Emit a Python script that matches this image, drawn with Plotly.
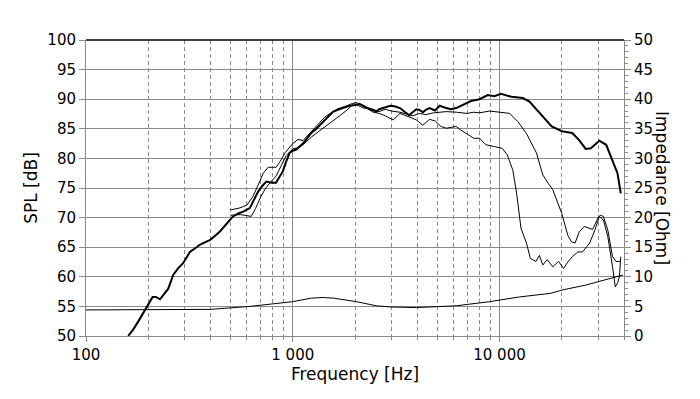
import numpy as np
import plotly.graph_objects as go

# ---- data ----
on_f = [160, 170, 180, 193, 203, 210, 218, 228, 240, 250, 264, 280, 295, 318, 340, 355, 380, 397, 420, 443,
        480, 514, 545, 575, 620, 650, 680, 710, 745, 790, 830, 860, 895, 930, 965, 1000, 1040, 1120, 1230,
        1300, 1400, 1480, 1570, 1650, 1730, 1880, 2000, 2100, 2270, 2400, 2540, 2620, 2800, 2960, 3100,
        3300, 3500, 3660, 3800, 3960, 4100, 4260, 4400, 4590, 4870, 5140, 5530, 5800, 6170, 6640, 7280,
        8000, 8770, 9440, 10170, 11400, 12970, 13960, 15650, 17870, 20030, 22470, 24270, 26100, 27650,
        30400, 32800, 35240, 37200, 38600]
on_db = [50.0, 51.2, 52.6, 54.4, 55.8, 56.6, 56.6, 56.2, 57.2, 58.0, 60.3, 61.5, 62.3, 64.2, 64.9, 65.4, 65.9,
         66.2, 66.9, 67.6, 69.0, 70.2, 70.7, 71.0, 71.6, 73.0, 74.4, 75.3, 76.1, 75.9, 75.9, 76.8, 77.8, 79.5,
         80.9, 81.3, 81.5, 82.5, 84.3, 85.0, 86.2, 87.0, 87.9, 88.2, 88.5, 88.9, 89.0, 89.2, 88.6, 88.2, 87.9,
         88.3, 88.6, 88.9, 88.8, 88.5, 87.8, 87.3, 87.8, 88.3, 88.2, 87.8, 88.2, 88.5, 88.1, 88.9, 88.5, 88.3,
         88.5, 89.0, 89.7, 90.0, 90.7, 90.5, 90.9, 90.4, 90.2, 89.6, 87.6, 85.4, 84.6, 84.3, 83.1, 81.6, 81.7,
         83.0, 82.3, 79.7, 77.5, 74.1]

a_f = [500, 550, 600, 640, 680, 720, 760, 830, 870, 920, 1000, 1060, 1120, 1230, 1330, 1430, 1550, 1650, 1800,
       1950, 2050, 2200, 2400, 2620, 2800, 3000, 3300, 3500, 3810, 4100, 4400, 4800, 5530, 6200, 6960, 7500,
       8000, 8960, 9800, 11200, 12280, 13500, 15100, 16200, 17200, 18100, 20000, 21400, 22300, 23200, 24300,
       25700, 28200, 30000, 30700, 31800, 33400, 35200, 36600, 38600]
a_db = [71.3, 71.6, 72.1, 73.5, 75.5, 77.5, 78.5, 78.5, 79.5, 81.0, 82.5, 83.2, 83.0, 84.5, 85.8, 87.0, 87.8,
        88.4, 88.8, 89.3, 89.0, 88.5, 88.4, 87.9, 88.3, 88.0, 87.8, 87.5, 87.2, 87.6, 87.4, 87.7, 87.9, 87.8,
        87.6, 87.8, 87.7, 88.0, 87.8, 87.6, 86.2, 84.2, 80.9, 77.2, 75.8, 74.7, 70.7, 67.0, 65.9, 65.7, 67.6,
        68.5, 68.0, 70.0, 70.4, 70.2, 67.9, 63.4, 62.6, 62.6]

b_f = [500, 560, 630, 660, 700, 740, 790, 830, 880, 930, 1000, 1060, 1120, 1230, 1330, 1430, 1570, 1700, 1850,
       2000, 2150, 2270, 2450, 2620, 2800, 3060, 3300, 3660, 3960, 4260, 4590, 4900, 5200, 5530, 6170, 6500,
       6960, 7500, 8000, 8600, 9440, 10300, 10900, 11600, 12100, 12700, 13500, 14100, 15000, 15600, 16200,
       17000, 18100, 19300, 20400, 21400, 22500, 23900, 25200, 27300, 29000, 30400, 31800, 33400, 35200,
       36300, 37300, 38000, 38600]
b_db = [70.4, 70.5, 70.2, 71.5, 73.5, 75.0, 76.2, 77.0, 78.8, 80.5, 81.6, 81.8, 82.3, 83.6, 84.5, 85.3, 86.3,
        87.3, 88.3, 89.5, 89.0, 88.5, 87.8, 87.6, 87.2, 86.5, 87.6, 87.0, 86.5, 85.6, 86.6, 86.3, 85.4, 85.1,
        85.4, 84.8, 84.2, 83.4, 83.4, 82.3, 82.0, 81.7, 80.6, 78.0, 74.1, 68.2, 65.7, 63.1, 62.6, 63.6, 62.0,
        62.9, 61.7, 62.6, 61.4, 62.5, 63.4, 64.2, 64.2, 65.7, 68.0, 70.2, 69.6, 66.8, 61.7, 58.3, 59.0, 60.0,
        63.4]

imp_f = [100, 200, 400, 620, 800, 1000, 1230, 1400, 1570, 2030, 2540, 3000, 3960, 5000, 6170, 8960, 12500,
         17600, 20300, 26100, 32800, 39500]
imp_ohm = [4.4, 4.4, 4.5, 5.0, 5.4, 5.8, 6.4, 6.5, 6.4, 5.8, 5.1, 4.9, 4.8, 4.9, 5.1, 5.8, 6.6, 7.2, 7.8, 8.6,
           9.5, 10.3]

x_major = [100, 1000, 10000]
x_major_text = ["100", "1 000", "10 000"]
x_minor = [m * d for d in (100, 1000, 10000) for m in range(2, 10) if m * d <= 40000]

FONT = "DejaVu Sans"
GRID = "#8a8a8a"

fig = go.Figure()
fig.add_trace(go.Scatter(x=imp_f, y=imp_ohm, mode="lines", yaxis="y2",
                         line=dict(color="black", width=1), hoverinfo="skip"))
fig.add_trace(go.Scatter(x=b_f, y=b_db, mode="lines", line=dict(color="black", width=1)))
fig.add_trace(go.Scatter(x=a_f, y=a_db, mode="lines", line=dict(color="black", width=1)))
fig.add_trace(go.Scatter(x=on_f, y=on_db, mode="lines", line=dict(color="black", width=2)))

# page body has an 8px default margin, so the figure is 8px smaller than the window
fig.update_layout(
    width=692, height=391,
    margin=dict(l=78, r=76, t=32, b=63),
    paper_bgcolor="white", plot_bgcolor="white",
    showlegend=False,
    font=dict(family=FONT, size=15, color="black"),
    xaxis=dict(
        type="log", range=[2, np.log10(40000)], automargin=False,
        tickvals=x_major, ticktext=x_major_text,
        showgrid=True, gridcolor=GRID, gridwidth=1,
        showline=True, linecolor=GRID, linewidth=1,
        ticks="outside", ticklen=5, tickcolor=GRID,
        zeroline=False,
        minor=dict(tickvals=x_minor, showgrid=True, gridcolor=GRID, griddash="4px,3px",
                   gridwidth=1, ticks="outside", ticklen=3, tickcolor=GRID),
        title=dict(text="Frequency [Hz]", font=dict(size=17), standoff=4),
        tickfont=dict(size=15),
    ),
    yaxis=dict(
        range=[50, 100], tick0=50, dtick=5, automargin=False,
        showgrid=True, gridcolor=GRID, gridwidth=1,
        showline=True, linecolor=GRID, linewidth=1,
        ticks="outside", ticklen=6, tickcolor=GRID,
        zeroline=False,
        title=dict(text="SPL [dB]", font=dict(size=17), standoff=5),
        tickfont=dict(size=15),
    ),
    yaxis2=dict(
        range=[0, 50], tick0=0, dtick=5, overlaying="y", side="right", automargin=False,
        showgrid=False, showline=True, linecolor=GRID, linewidth=1,
        ticks="outside", ticklen=6, tickcolor=GRID, zeroline=False,
        minor=dict(dtick=1, ticks="outside", ticklen=3, tickcolor=GRID),
        tickfont=dict(size=15),
    ),
    shapes=[dict(type="line", xref="paper", yref="paper", x0=0, x1=1, y0=1, y1=1,
                 line=dict(color="black", width=1.5))],
    annotations=[dict(text="Impedance [Ohm]", xref="paper", yref="paper", x=1.0706, y=0.5,
                      textangle=90, showarrow=False, font=dict(size=17, family=FONT),
                      xanchor="center", yanchor="middle")],
)

fig.write_html("out.html")
